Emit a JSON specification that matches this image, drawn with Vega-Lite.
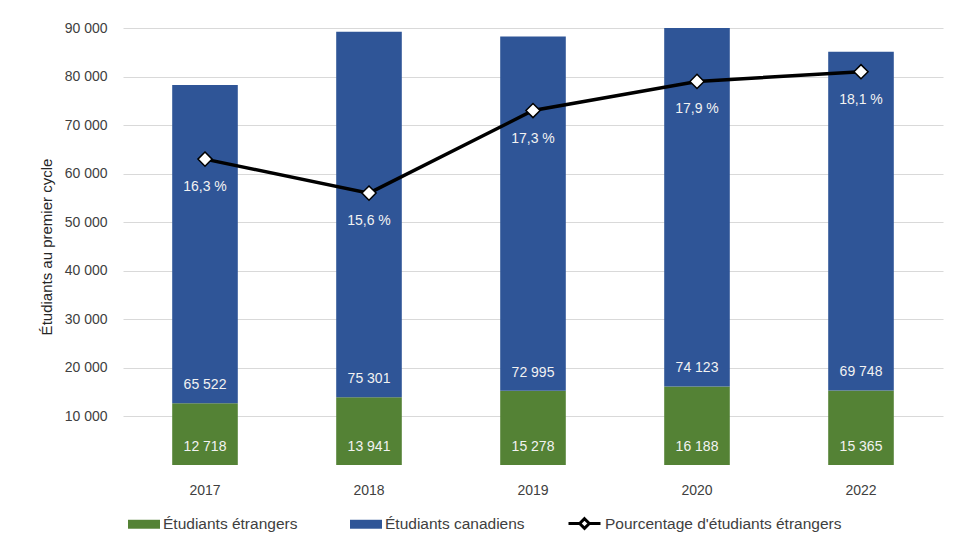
{
  "$schema": "https://vega.github.io/schema/vega-lite/v6.json",
  "autosize": {"type": "none"},
  "width": 820,
  "height": 437,
  "padding": {"left": 123, "top": 28, "right": 12, "bottom": 88},
  "background": "white",
  "datasets": {
    "etud": [
      {"year": "2017", "group": "Étudiants étrangers", "value": 12718},
      {"year": "2017", "group": "Étudiants canadiens", "value": 65522},
      {"year": "2018", "group": "Étudiants étrangers", "value": 13941},
      {"year": "2018", "group": "Étudiants canadiens", "value": 75301},
      {"year": "2019", "group": "Étudiants étrangers", "value": 15278},
      {"year": "2019", "group": "Étudiants canadiens", "value": 72995},
      {"year": "2020", "group": "Étudiants étrangers", "value": 16188},
      {"year": "2020", "group": "Étudiants canadiens", "value": 74123},
      {"year": "2022", "group": "Étudiants étrangers", "value": 15365},
      {"year": "2022", "group": "Étudiants canadiens", "value": 69748}
    ],
    "pct": [
      {"year": "2017", "pct": 16.3},
      {"year": "2018", "pct": 15.6},
      {"year": "2019", "pct": 17.3},
      {"year": "2020", "pct": 17.9},
      {"year": "2022", "pct": 18.1}
    ]
  },
  "encoding": {
    "x": {
      "field": "year",
      "type": "ordinal",
      "scale": {"paddingInner": 0.6, "paddingOuter": 0.3},
      "axis": {
        "title": null,
        "labelAngle": 0,
        "ticks": false,
        "domain": false,
        "labelPadding": 18,
        "labelFont": "Liberation Sans",
        "labelFontSize": 14,
        "labelColor": "#404040"
      }
    }
  },
  "layer": [
    {
      "data": {"name": "etud"},
      "transform": [
        {"stack": "value", "groupby": ["year"], "sort": [{"field": "group", "order": "descending"}], "as": ["v0", "v1"]}
      ],
      "layer": [
        {
          "mark": {"type": "bar", "clip": true},
          "encoding": {
            "y": {
              "field": "v0",
              "type": "quantitative",
              "scale": {"domain": [0, 90000], "nice": false},
              "axis": {
                "title": "Étudiants au premier cycle",
                "values": [10000, 20000, 30000, 40000, 50000, 60000, 70000, 80000, 90000],
                "format": ",d",
                "ticks": false,
                "domain": false,
                "grid": true,
                "gridColor": "#d9d9d9",
                "gridWidth": 1.2,
                "labelPadding": 16,
                "labelFont": "Liberation Sans",
                "labelFontSize": 14,
                "labelColor": "#404040",
                "titleFont": "Liberation Sans",
                "titleFontSize": 15,
                "titleFontWeight": "normal",
                "titleColor": "#262626",
                "titlePadding": 10
              }
            },
            "y2": {"field": "v1"},
            "fill": {
              "field": "group",
              "type": "nominal",
              "scale": {"domain": ["Étudiants étrangers", "Étudiants canadiens"], "range": ["#548235", "#2F5597"]},
              "legend": {
                "title": null,
                "orient": "none",
                "legendX": 5,
                "legendY": 480,
                "direction": "horizontal",
                "symbolType": "M-1,-0.28H1V0.28H-1Z",
                "symbolSize": 1024,
                "symbolStrokeWidth": 0,
                "labelFont": "Liberation Sans",
                "labelFontSize": 15.5,
                "labelColor": "#404040",
                "labelOffset": 3,
                "labelLimit": 300,
                "columnPadding": 52
              }
            }
          }
        },
        {
          "mark": {"type": "rule", "strokeWidth": 1.2, "color": "#d9d9d9"},
          "encoding": {"y": {"datum": 0, "type": "quantitative"}}
        },
        {
          "mark": {"type": "text", "dy": -18, "color": "#f2f2f2", "font": "Liberation Sans", "fontSize": 14, "baseline": "middle"},
          "encoding": {
            "y": {"field": "v0", "type": "quantitative"},
            "text": {"field": "value", "type": "quantitative", "format": ",d"}
          }
        }
      ]
    },
    {
      "data": {"name": "pct"},
      "transform": [
        {"calculate": "replace(format(datum.pct, '.1f'), '.', ',') + ' %'", "as": "label"}
      ],
      "encoding": {
        "y": {
          "field": "pct",
          "type": "quantitative",
          "scale": {"domain": [10, 19], "nice": false, "zero": false},
          "axis": null
        }
      },
      "layer": [
        {
          "mark": {"type": "line", "strokeWidth": 3.5},
          "encoding": {
            "stroke": {
              "datum": "Pourcentage d'étudiants étrangers",
              "scale": {"range": ["black"]},
              "legend": {
                "title": null,
                "orient": "none",
                "legendX": 444,
                "legendY": 478,
                "symbolType": "M-1,0H-0.3M0.3,0H1M0,-0.3L0.3,0L0,0.3L-0.3,0Z",
                "symbolSize": 1024,
                "symbolStrokeWidth": 3,
                "symbolFillColor": "white",
                "labelFont": "Liberation Sans",
                "labelFontSize": 15.5,
                "labelColor": "#404040",
                "labelOffset": 3,
                "labelLimit": 400
              }
            }
          }
        },
        {
          "mark": {"type": "point", "shape": "diamond", "filled": true, "fill": "white", "stroke": "black", "strokeWidth": 1.5, "size": 200, "opacity": 1},
          "encoding": {}
        },
        {
          "mark": {"type": "text", "dy": 28, "color": "#f2f2f2", "font": "Liberation Sans", "fontSize": 14, "baseline": "middle"},
          "encoding": {"text": {"field": "label"}}
        }
      ]
    }
  ],
  "resolve": {"scale": {"y": "independent"}},
  "config": {
    "view": {"stroke": null},
    "locale": {"number": {"decimal": ",", "thousands": " ", "grouping": [3], "currency": ["", " €"]}}
  }
}
